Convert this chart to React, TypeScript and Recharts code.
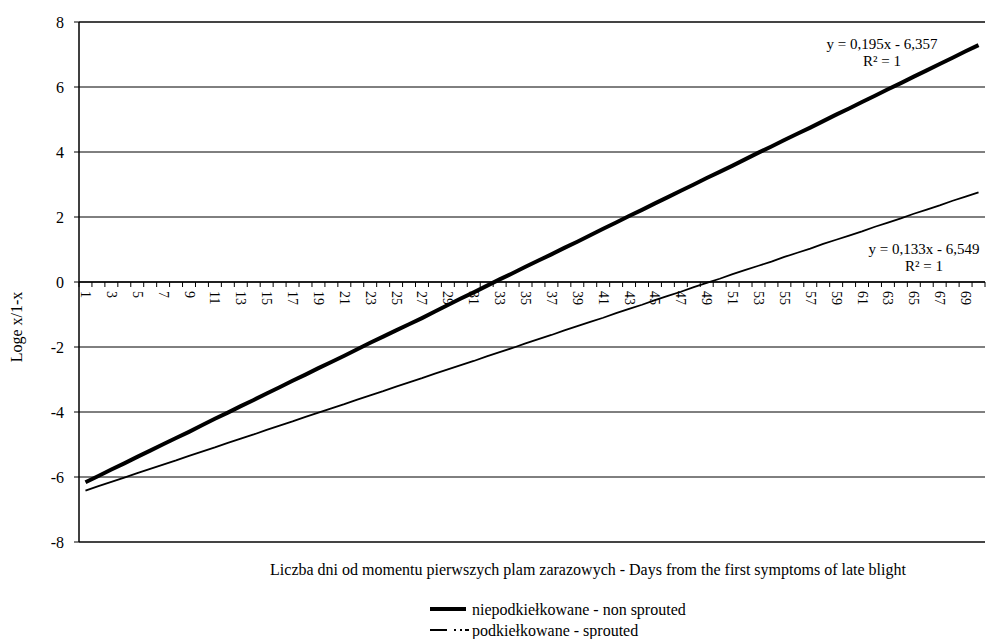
import React from 'react';
import { LineChart, Line, XAxis, YAxis, CartesianGrid, ReferenceLine, Legend } from 'recharts';

// Days from the first symptoms of late blight
const days = [
  1, 2, 3, 4, 5, 6, 7, 8, 9, 10, 11, 12, 13, 14, 15, 16, 17, 18, 19, 20,
  21, 22, 23, 24, 25, 26, 27, 28, 29, 30, 31, 32, 33, 34, 35, 36, 37, 38, 39, 40,
  41, 42, 43, 44, 45, 46, 47, 48, 49, 50, 51, 52, 53, 54, 55, 56, 57, 58, 59, 60,
  61, 62, 63, 64, 65, 66, 67, 68, 69, 70,
];

// Loge x/1-x, non sprouted tubers
const nonSprouted = [
  -6.16, -5.97, -5.77, -5.58, -5.38, -5.19, -4.99, -4.80, -4.61, -4.41,
  -4.21, -4.02, -3.82, -3.63, -3.43, -3.24, -3.04, -2.85, -2.65, -2.46,
  -2.27, -2.07, -1.87, -1.68, -1.49, -1.30, -1.11, -0.91, -0.71, -0.51,
  -0.32, -0.12, 0.08, 0.27, 0.47, 0.66, 0.85, 1.05, 1.24, 1.44,
  1.64, 1.83, 2.03, 2.22, 2.42, 2.61, 2.81, 3.00, 3.20, 3.39,
  3.58, 3.78, 3.98, 4.17, 4.37, 4.56, 4.75, 4.95, 5.15, 5.34,
  5.54, 5.73, 5.93, 6.12, 6.32, 6.51, 6.71, 6.90, 7.10, 7.29,
];

// Loge x/1-x, sprouted tubers
const sprouted = [
  -6.42, -6.28, -6.15, -6.02, -5.88, -5.75, -5.62, -5.49, -5.35, -5.22,
  -5.09, -4.95, -4.82, -4.69, -4.55, -4.42, -4.29, -4.15, -4.02, -3.89,
  -3.76, -3.62, -3.49, -3.36, -3.22, -3.09, -2.96, -2.82, -2.69, -2.56,
  -2.43, -2.29, -2.16, -2.03, -1.89, -1.76, -1.63, -1.49, -1.36, -1.23,
  -1.10, -0.96, -0.83, -0.70, -0.56, -0.43, -0.30, -0.16, -0.03, 0.10,
  0.24, 0.37, 0.50, 0.63, 0.77, 0.90, 1.03, 1.17, 1.30, 1.43,
  1.56, 1.70, 1.83, 1.96, 2.10, 2.23, 2.36, 2.50, 2.63, 2.76,
];

const yTicks = [-8, -6, -4, -2, 0, 2, 4, 6, 8];

const seriesNames = ['niepodkiełkowane - non sprouted', 'podkiełkowane - sprouted'];
const equations = [
  ['y = 0,195x - 6,357', 'R² = 1'],
  ['y = 0,133x - 6,549', 'R² = 1'],
];
const xTitle = 'Liczba dni od momentu pierwszych plam zarazowych - Days from the first symptoms of late blight';
const yTitle = 'Loge x/1-x';

const data = days.map((d, i) => ({ day: d, nonSprouted: nonSprouted[i], sprouted: sprouted[i] }));

const W = 987;
const H = 639;
const X_AXIS_H = 30;
const M = { top: 22, right: 2, bottom: 97 - X_AXIS_H, left: 0 };
const Y_AXIS_W = 79;
const PLOT_W = W - M.left - M.right - Y_AXIS_W;
const PLOT_H = H - M.top - M.bottom - X_AXIS_H;
const ZERO_Y = M.top + PLOT_H / 2;
const BAND = PLOT_W / days.length;
const FONT = '"Liberation Serif", "Times New Roman", Times, serif';

// Category ticks drawn along the zero line: boundary marks plus rotated labels
const DayTick = (props: any) => {
  const { x, index, payload } = props;
  const cx = Number(x);
  const left = cx - BAND / 2;
  const right = cx + BAND / 2;
  const showLabel = Number(payload?.value) % 2 === 1;
  const ly = ZERO_Y + 9;
  return (
    <g>
      <line x1={left} y1={ZERO_Y} x2={left} y2={ZERO_Y + 5} stroke="#000" strokeWidth={1} />
      {index === days.length - 1 && (
        <line x1={right} y1={ZERO_Y} x2={right} y2={ZERO_Y + 5} stroke="#000" strokeWidth={1} />
      )}
      {showLabel && (
        <g transform={`translate(${cx} ${ly}) rotate(90)`}>
          <text
            x={0}
            y={0}
            textAnchor="start"
            dominantBaseline="central"
            fontSize={14}
            fontFamily={FONT}
            fill="#000"
          >
            {payload.value}
          </text>
        </g>
      )}
    </g>
  );
};

const LegendContent = () => (
  <div style={{ fontFamily: FONT, fontSize: 16, color: '#000', lineHeight: '21px' }}>
    <div style={{ display: 'flex', alignItems: 'center' }}>
      <svg width={42} height={21}>
        <line x1={0} y1={10} x2={36} y2={10} stroke="#000" strokeWidth={4} />
      </svg>
      <span>{seriesNames[0]}</span>
    </div>
    <div style={{ display: 'flex', alignItems: 'center' }}>
      <svg width={42} height={21}>
        <line x1={0} y1={10} x2={17} y2={10} stroke="#000" strokeWidth={2} />
        <line x1={24} y1={10} x2={26} y2={10} stroke="#000" strokeWidth={2} />
        <line x1={30} y1={10} x2={32} y2={10} stroke="#000" strokeWidth={2} />
        <line x1={35} y1={10} x2={39} y2={10} stroke="#000" strokeWidth={2} />
      </svg>
      <span>{seriesNames[1]}</span>
    </div>
  </div>
);

const eqStyle = (cx: number, top: number): React.CSSProperties => ({
  position: 'absolute',
  left: cx - 100,
  top,
  width: 200,
  textAlign: 'center',
  fontFamily: FONT,
  fontSize: 15,
  lineHeight: '17px',
  color: '#000',
  whiteSpace: 'nowrap',
});

export default function App() {
  return (
    <div style={{ position: 'absolute', left: 0, top: 0, width: W, height: H, background: '#fff' }}>
      <LineChart width={W} height={H} data={data} margin={M}>
        <CartesianGrid horizontal vertical={false} stroke="#000" strokeWidth={1} />
        <XAxis
          dataKey="day"
          type="category"
          scale="band"
          interval={0}
          height={X_AXIS_H}
          axisLine={false}
          tickLine={false}
          tick={(p: any) => <DayTick {...p} />}
        />
        <YAxis
          type="number"
          domain={[-8, 8]}
          ticks={yTicks}
          width={Y_AXIS_W}
          tickSize={5}
          tickMargin={10}
          axisLine={{ stroke: '#000', strokeWidth: 1.5 }}
          tickLine={{ stroke: '#000' }}
          tick={{ fill: '#000', fontSize: 16, fontFamily: FONT }}
        />
        <ReferenceLine y={8} stroke="#444" strokeWidth={2} />
        <ReferenceLine y={-8} stroke="#444" strokeWidth={2} />
        <ReferenceLine y={0} stroke="#000" strokeWidth={1.5} />
        <Line
          dataKey="nonSprouted"
          name={seriesNames[0]}
          stroke="#000"
          strokeWidth={4}
          dot={false}
          activeDot={false}
          isAnimationActive={false}
        />
        <Line
          dataKey="sprouted"
          name={seriesNames[1]}
          stroke="#000"
          strokeWidth={1.8}
          dot={false}
          activeDot={false}
          isAnimationActive={false}
        />
        <Legend
          layout="horizontal"
          verticalAlign="middle"
          align="center"
          content={<LegendContent />}
          wrapperStyle={{ position: 'absolute', left: 430, top: 599, width: 280 }}
        />
      </LineChart>
      <div style={eqStyle(882, 36)}>
        <div>{equations[0][0]}</div>
        <div>{equations[0][1]}</div>
      </div>
      <div style={eqStyle(924, 241)}>
        <div>{equations[1][0]}</div>
        <div>{equations[1][1]}</div>
      </div>
      <div
        style={{
          position: 'absolute',
          left: 0,
          width: 1176,
          top: 561,
          textAlign: 'center',
          fontFamily: FONT,
          fontSize: 16,
          color: '#000',
          whiteSpace: 'nowrap',
        }}
      >
        {xTitle}
      </div>
      <div
        style={{
          position: 'absolute',
          left: 17,
          top: 327,
          transform: 'translate(-50%, -50%) rotate(-90deg)',
          fontFamily: FONT,
          fontSize: 16,
          color: '#000',
          whiteSpace: 'nowrap',
        }}
      >
        {yTitle}
      </div>
    </div>
  );
}
